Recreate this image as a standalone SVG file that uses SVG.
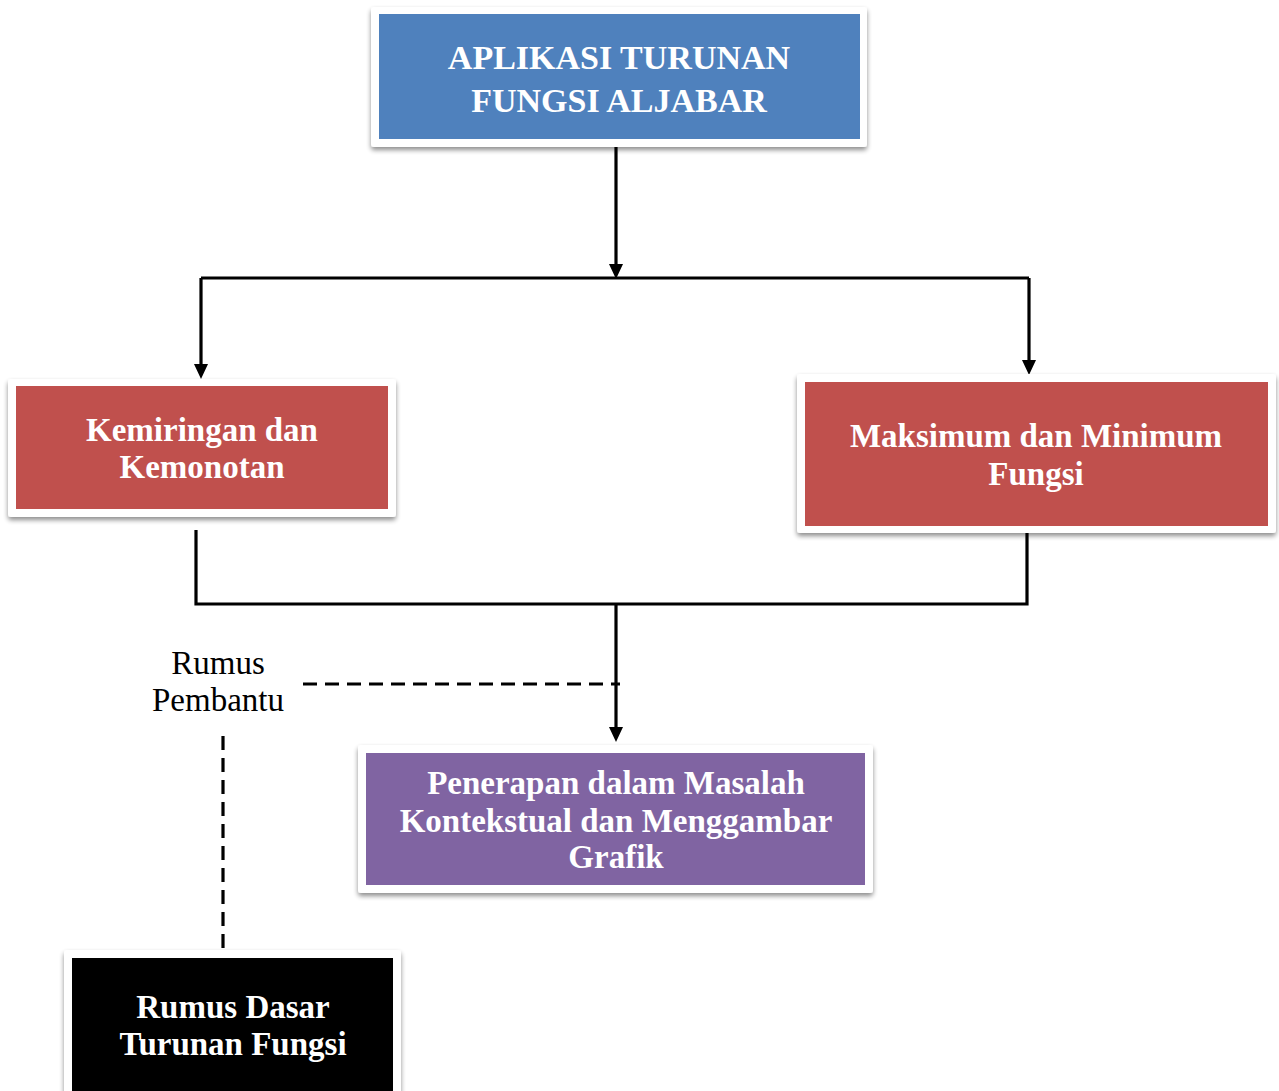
<svg xmlns="http://www.w3.org/2000/svg" width="1279" height="1091" viewBox="0 0 1279 1091">
<style>
.frame{fill:#ffffff;filter:url(#sh)}
.t{font-family:"Liberation Serif","Times New Roman",serif;font-weight:bold;fill:#ffffff;text-anchor:middle}
.ln{stroke:#000;stroke-width:3.2;fill:none}
.dash{stroke:#000;stroke-width:3.2;fill:none;stroke-dasharray:14,8}
.lbl{font-family:"Liberation Serif","Times New Roman",serif;font-size:33px;fill:#000;text-anchor:middle}
</style>
<defs>
<filter id="sh" x="-5%" y="-10%" width="110%" height="125%">
<feGaussianBlur in="SourceAlpha" stdDeviation="2.5"/>
<feOffset dx="0" dy="3" result="b"/>
<feComponentTransfer><feFuncA type="linear" slope="0.45"/></feComponentTransfer>
<feMerge><feMergeNode/><feMergeNode in="SourceGraphic"/></feMerge>
</filter>
</defs>
<g id="connectors">
<path class="ln" d="M616,145 V265"/>
<path d="M609,264 L623,264 L616,279 Z"/>
<path class="ln" d="M201,278 H1029"/>
<path class="ln" d="M201,278 V365"/>
<path d="M194,364 L208,364 L201,379 Z"/>
<path class="ln" d="M1029,278 V361"/>
<path d="M1022,360 L1036,360 L1029,375 Z"/>
<path class="ln" d="M196,530 V604 H1027 V533"/>
<path class="ln" d="M616,604 V728"/>
<path d="M609,727 L623,727 L616,742 Z"/>
<path class="dash" d="M303,684 H620"/>
<path class="dash" d="M223,736 V948"/>
</g>
<g id="node-top">
<rect class="frame" x="371" y="7" width="496" height="140" rx="3"/>
<rect x="379" y="14" width="481" height="125" fill="#4F81BD"/>
<text class="t" font-size="34" x="619" y="69">APLIKASI TURUNAN</text>
<text class="t" font-size="34" x="619" y="112">FUNGSI ALJABAR</text>
</g>
<g id="node-kemiringan">
<rect class="frame" x="8" y="379" width="388" height="138" rx="3"/>
<rect x="16" y="386" width="372" height="123" fill="#C0504D"/>
<text class="t" font-size="33" x="202" y="441">Kemiringan dan</text>
<text class="t" font-size="33" x="202" y="478">Kemonotan</text>
</g>
<g id="node-maksimum">
<rect class="frame" x="797" y="374" width="479" height="159" rx="3"/>
<rect x="805" y="382" width="463" height="144" fill="#C0504D"/>
<text class="t" font-size="33" x="1036" y="447">Maksimum dan Minimum</text>
<text class="t" font-size="33" x="1036" y="485">Fungsi</text>
</g>
<g id="node-penerapan">
<rect class="frame" x="358" y="745" width="515" height="148" rx="3"/>
<rect x="366" y="753" width="499" height="132" fill="#8064A2"/>
<text class="t" font-size="33" x="616" y="794">Penerapan dalam Masalah</text>
<text class="t" font-size="33" x="616" y="832">Kontekstual dan Menggambar</text>
<text class="t" font-size="33" x="616" y="868">Grafik</text>
</g>
<g id="node-rumus-dasar">
<rect class="frame" x="64" y="950" width="337" height="150" rx="3"/>
<rect x="72" y="958" width="321" height="140" fill="#000000"/>
<text class="t" font-size="33" x="233" y="1018">Rumus Dasar</text>
<text class="t" font-size="33" x="233" y="1055">Turunan Fungsi</text>
</g>
<g id="label-rumus-pembantu">
<text class="lbl" x="218" y="674">Rumus</text>
<text class="lbl" x="218" y="711">Pembantu</text>
</g>
</svg>
